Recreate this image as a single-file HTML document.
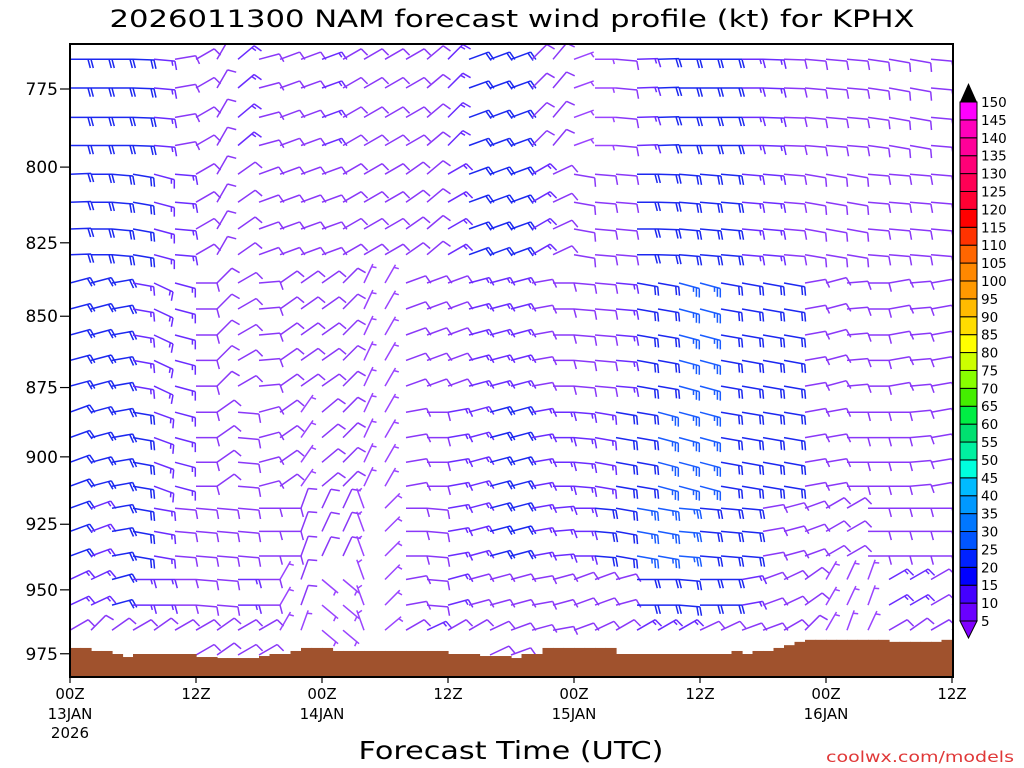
<!DOCTYPE html>
<html><head><meta charset="utf-8"><title>NAM wind profile KPHX</title>
<style>html,body{margin:0;padding:0;background:#fff;}svg{display:block;}</style></head>
<body>
<svg id="chart" width="1024" height="768" viewBox="0 0 1024 768" xmlns="http://www.w3.org/2000/svg" font-family="'DejaVu Sans','Liberation Sans',sans-serif">
<rect x="0" y="0" width="1024" height="768" fill="#fff"/>
<text x="512" y="27" text-anchor="middle" font-size="24" textLength="805" lengthAdjust="spacingAndGlyphs" fill="#000">2026011300 NAM forecast wind profile (kt) for KPHX</text>
<defs><clipPath id="plotclip"><rect x="70" y="44" width="883" height="633"/></clipPath></defs>
<g id="barbs" clip-path="url(#plotclip)"></g>
<g id="terrain"></g>
<rect x="70" y="44" width="883" height="633" fill="none" stroke="#000" stroke-width="2"/>
<g id="yaxis"></g>
<g id="xaxis"></g>
<text x="511" y="759" text-anchor="middle" font-size="25" textLength="305" lengthAdjust="spacingAndGlyphs" fill="#000">Forecast Time (UTC)</text>
<text x="1014" y="762" text-anchor="end" font-size="15" textLength="188" lengthAdjust="spacingAndGlyphs" fill="#e03838">coolwx.com/models</text>
<g id="colorbar"></g>
</svg>
<script>
// ---------- data ----------
const levels = [765.7,774.7,784,793,802.3,811.5,820.4,829,838.6,847.5,856.5,865.4,874.5,883.8,893,902,910.8,919,927.7,937,946,955.9,965.7,975.5];
const hoursCols = [0,2,4,6,8,10,12,14,16,18,20,22,24,26,28,30,32,34,36,38,40,42,44,46,48,50,52,54,56,58,60,62,64,66,68,70,72,74,76,78,80,82,84];
const surfP = [972.7,972.7,973.9,973.9,975.1,976.3,975.1,975.1,975.1,975.1,975.1,975.1,976.3,976.3,976.7,976.7,976.7,976.7,975.9,975.1,975.1,973.9,972.7,972.7,972.7,973.9,973.9,973.9,973.9,973.9,973.9,973.9,973.9,973.9,973.9,973.9,975.1,975.1,975.1,975.9,975.9,975.9,976.7,975.1,975.1,972.7,972.7,972.7,972.7,972.7,972.7,972.7,975.1,975.1,975.1,975.1,975.1,975.1,975.1,975.1,975.1,975.1,975.1,973.9,975.1,973.9,973.9,972.7,971.6,970.3,969.5,969.5,969.5,969.5,969.5,969.5,969.5,969.5,970.3,970.3,970.3,970.3,970.3,969.5,969.5];
const dirTop = [90,90,90,92,95,80,60,30,50,75,70,70,70,60,60,60,60,50,45,70,70,70,45,40,70,90,95,88,88,90,90,90,90,92,92,95,95,95,98,100,100,95,85];
const spdTop = [20,20,20,20,15,10,10,10,15,12,10,10,15,10,10,10,10,10,15,20,20,20,10,10,5,5,10,15,20,20,20,20,15,15,10,10,10,10,10,10,10,10,10];
const dirUpper = [88,90,95,100,105,95,60,30,55,70,70,70,70,60,60,60,55,50,60,70,70,70,60,65,100,95,95,90,92,95,95,95,95,95,95,100,100,100,95,95,95,95,80];
const spdUpper = [20,20,20,20,15,15,10,10,10,10,10,10,10,10,10,10,10,10,15,20,20,20,15,10,10,10,10,20,20,20,20,20,15,15,10,10,10,10,10,10,10,10,10];
const dirMid = [75,75,80,100,115,105,90,45,60,85,55,55,55,45,25,30,70,70,70,75,75,75,80,90,95,95,95,100,100,105,105,100,100,100,100,80,75,85,90,80,85,80,70];
const spdMid = [20,20,20,15,15,15,10,10,10,10,10,10,10,10,5,5,10,10,10,15,15,15,10,10,10,10,15,20,20,25,25,20,20,20,20,10,10,10,10,10,10,10,10];
const dirLowMid = [70,75,80,100,110,105,90,55,95,75,55,35,50,45,25,30,80,90,80,75,75,75,80,90,95,100,100,100,105,105,105,100,100,100,100,80,80,90,90,90,85,80,75];
const spdLowMid = [20,20,20,20,15,15,10,10,10,8,10,5,10,10,5,5,10,10,15,15,20,20,15,15,15,15,20,20,25,25,25,20,20,20,20,10,10,10,10,10,10,10,10];
const dirLow = [70,70,80,100,100,95,95,95,95,90,90,20,25,25,340,45,90,95,80,75,75,75,80,85,90,95,100,100,100,95,95,95,95,80,75,70,60,60,90,90,90,90,90];
const spdLow = [20,15,20,20,15,10,10,10,10,10,10,8,8,8,5,5,10,10,15,15,20,20,15,15,15,20,20,25,25,25,20,20,20,10,10,10,10,10,10,10,10,10,10];
const dirNear = [65,65,75,90,90,90,95,95,90,90,30,20,130,130,340,45,80,95,75,75,75,75,80,75,70,70,75,90,90,95,90,90,80,70,65,55,30,25,20,60,60,60,65];
const spdNear = [15,15,20,15,15,10,10,10,15,10,5,8,5,5,5,5,10,10,15,10,10,10,10,10,10,10,10,20,20,20,20,20,15,10,10,10,5,5,5,15,15,10,10];
const dirSfc = [60,45,55,60,55,60,60,55,60,60,30,20,130,130,340,50,60,65,60,60,65,70,75,80,70,65,60,60,60,60,65,65,70,70,60,45,30,20,25,60,55,60,50];
const spdSfc = [10,10,10,10,10,10,10,10,10,10,5,5,5,5,5,5,10,15,10,10,10,10,10,10,10,10,10,15,15,15,10,10,10,10,10,10,5,5,5,10,10,10,10];
const dirRows = [dirTop,dirTop,dirTop,dirTop,dirUpper,dirUpper,dirUpper,dirUpper,dirMid,dirMid,dirMid,dirMid,dirMid,dirLowMid,dirLowMid,dirLowMid,dirLowMid,dirLow,dirLow,dirLow,dirNear,dirNear,dirSfc,dirSfc];
const spdRows = [spdTop,spdTop,spdTop,spdTop,spdUpper,spdUpper,spdUpper,spdUpper,spdMid,spdMid,spdMid,spdMid,spdMid,spdLowMid,spdLowMid,spdLowMid,spdLowMid,spdLow,spdLow,spdLow,spdNear,spdNear,spdSfc,spdSfc];
const yTicks = [775,800,825,850,875,900,925,950,975];
const xTickHours = [0,12,24,36,48,60,72,84];
const xTickTop = ["00Z","12Z","00Z","12Z","00Z","12Z","00Z","12Z"];
const xTickDate = ["13JAN","","14JAN","","15JAN","","16JAN",""];
const cbLabels = [5,10,15,20,25,30,35,40,45,50,55,60,65,70,75,80,85,90,95,100,105,110,115,120,125,130,135,140,145,150];
const cbColors = ["#6a00ff","#4400ff","#0000ff","#0022ff","#0055ff","#0077ff","#0099ff","#00bbff","#00ffdd","#00f0a0","#00e070","#00ee44","#44ee00","#88ff00","#ccff00","#ffff00","#ffdd00","#ffbb00","#ff9900","#ff8800","#ff6600","#ff3300","#ff0000","#ff0033","#ff0055","#ff0077","#ff0099","#ff00bb","#ff00ff"];

// ---------- scales ----------
const NS = "http://www.w3.org/2000/svg";
const X0 = 70, PXH = 10.5;
function xScale(h){ return X0 + h*PXH; }
function yScale(p){ return 89 + 2460*Math.log(p/775); }
function mk(tag, attrs, parent){ const e=document.createElementNS(NS,tag); for(const k in attrs) e.setAttribute(k,attrs[k]); parent.appendChild(e); return e; }
function spdColor(s){ if(s<=7) return "#9a44ff"; if(s<=12) return "#8a38f8"; if(s<=17) return "#6a2cff"; if(s<=22) return "#1c28f0"; return "#1a5cff"; }

// ---------- terrain ----------
const tg = document.getElementById('terrain');
for(let h=0; h<surfP.length; h++){
  const x1 = xScale(h), x2 = Math.min(xScale(h+1), 953);
  if (x2 <= x1) continue;
  const y = yScale(surfP[h]);
  const r = mk('rect',{x:x1,y:y,width:(x2-x1)+0.6,height:677-y,fill:'#a0522d'},tg);
  
  
}

// ---------- barbs ----------
const bg = document.getElementById('barbs');
const L = 21, FULL = 9, HALF = 5, GAP = 3, FA = 75*Math.PI/180;
for(let r=0;r<levels.length;r++){
  for(let c=0;c<hoursCols.length;c++){
    const h = hoursCols[c];
    const sp = surfP[Math.min(h, surfP.length-1)];
    if(levels[r] >= sp) continue;
    const d = dirRows[r][c], s = spdRows[r][c];
    const x = xScale(h), y = yScale(levels[r]);
    const rad = d*Math.PI/180;
    const ux = Math.sin(rad), uy = -Math.cos(rad);
    const fx = ux*Math.cos(FA) - uy*Math.sin(FA), fy = ux*Math.sin(FA) + uy*Math.cos(FA);
    const tx = x+ux*L, ty = y+uy*L;
    const col = spdColor(s);
    let dpath = `M${x.toFixed(1)} ${y.toFixed(1)}L${tx.toFixed(1)} ${ty.toFixed(1)}`;
    let rem = Math.round(s/5)*5, off = 0;
    while(rem >= 10){
      const bx = tx-ux*off, by = ty-uy*off;
      dpath += `M${bx.toFixed(1)} ${by.toFixed(1)}l${(fx*FULL).toFixed(1)} ${(fy*FULL).toFixed(1)}`;
      rem -= 10; off += GAP;
    }
    if(rem >= 5){
      if(off===0) off = GAP;
      const bx = tx-ux*off, by = ty-uy*off;
      dpath += `M${bx.toFixed(1)} ${by.toFixed(1)}l${(fx*HALF).toFixed(1)} ${(fy*HALF).toFixed(1)}`;
    }
    const p = mk('path',{d:dpath,stroke:col,'stroke-width':1.5,fill:'none'},bg);
    
    
  }
}

// ---------- axes ----------
const yg = document.getElementById('yaxis');
yTicks.forEach(v=>{
  const y = yScale(v);
  const t = mk('line',{x1:60,y1:y,x2:70,y2:y,stroke:'#000','stroke-width':1.2},yg);
  
  
  const l = mk('text',{x:58,y:y+6,'text-anchor':'end','font-size':17,fill:'#000'},yg);
  l.textContent = String(v);
  
  
});
const xg = document.getElementById('xaxis');
xTickHours.forEach((h,i)=>{
  const x = xScale(h);
  const t = mk('line',{x1:x,y1:677,x2:x,y2:683,stroke:'#000','stroke-width':1.2},xg);
  
  
  const l = mk('text',{x:x,y:699,'text-anchor':'middle','font-size':15,fill:'#000'},xg);
  l.textContent = xTickTop[i];
  
  
  if(xTickDate[i]){
    const l2 = mk('text',{x:x,y:719,'text-anchor':'middle','font-size':15,fill:'#000'},xg);
    l2.textContent = xTickDate[i];
    
    
  }
});
const yr = mk('text',{x:70,y:738,'text-anchor':'middle','font-size':15,fill:'#000'},xg);
yr.textContent = "2026";



// ---------- colorbar ----------
const cg = document.getElementById('colorbar');
const cbTop = 102, cbBot = 621, n = cbColors.length, bh = (cbBot-cbTop)/n, cx = 960, cw = 17;
cbColors.forEach((c,i)=>{
  const yb = cbBot - (i+1)*bh;
  const r = mk('rect',{x:cx,y:yb,width:cw,height:bh,fill:c,stroke:'#000','stroke-width':1},cg);
  
  
});
const ta = mk('polygon',{points:`${cx},${cbTop} ${cx+cw},${cbTop} ${cx+cw/2},${cbTop-19}`,fill:'#000'},cg);


const ba = mk('polygon',{points:`${cx},${cbBot} ${cx+cw},${cbBot} ${cx+cw/2},${cbBot+17}`,fill:'#8000ff',stroke:'#000','stroke-width':1},cg);


cbLabels.forEach((v,i)=>{
  const y = cbBot - i*bh;
  const l = mk('text',{x:981,y:y+5,'font-size':13.5,fill:'#000'},cg);
  l.textContent = String(v);
  
  
});
</script>
</body></html>
